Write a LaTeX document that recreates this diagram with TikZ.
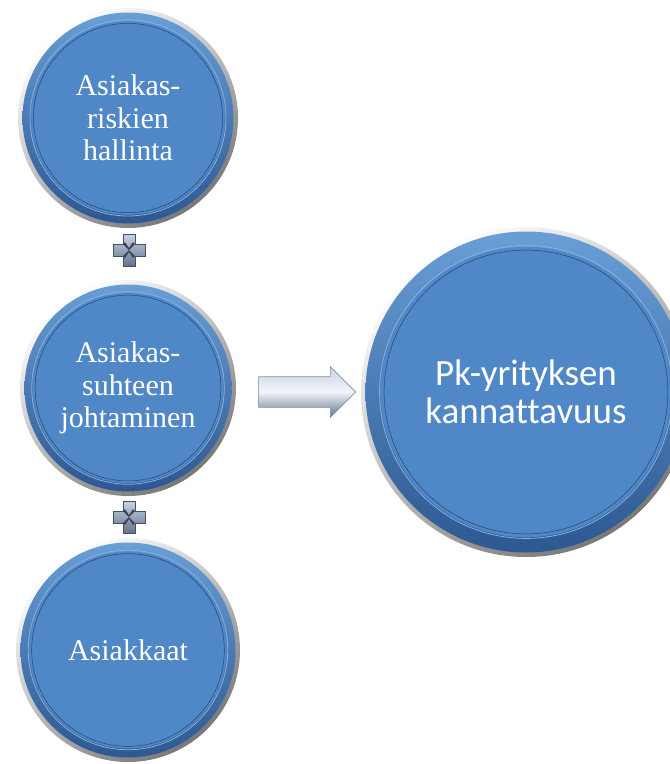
\documentclass[tikz,border=0pt]{standalone}
\usepackage{fontspec}
\setmainfont{Liberation Serif}
\newfontfamily\calib[Ligatures=NoCommon]{Carlito}
\usetikzlibrary{backgrounds,calc,shapes.arrows}
\definecolor{bblue}{RGB}{80,135,198}
\definecolor{bdark}{RGB}{45,88,145}
\definecolor{blight}{RGB}{105,158,215}
\definecolor{rimgray}{RGB}{120,120,120}
\definecolor{silverA}{RGB}{200,212,230}
\definecolor{silverB}{RGB}{100,115,140}
\tikzset{
  x=1pt,y=1pt,
  bubble/.style={circle, inner sep=0pt, text=white, align=center,
    font=\fontsize{30}{32.5}\selectfont},
  bigbubble/.style={bubble, font=\calib\fontsize{37}{38}\selectfont},
  blockarrow/.style={single arrow, draw=silverB!80, line width=0.6pt,
    top color=silverA, bottom color=silverB, middle color=white!75!silverA,
    minimum height=97pt, inner xsep=0pt, inner ysep=15pt,
    single arrow head extend=10pt, single arrow tip angle=90},
  plussign/.style={top color=silverA, bottom color=silverB, draw=silverB!70!black, line width=0.4pt},
}
\newcommand\bubbledeco[2]{%
  \shade[top color=white, bottom color=rimgray, shading angle=35] (#1.center) circle[radius=#2pt];
  \shade[top color=blight, bottom color=bdark] (#1.center) circle[radius=#2pt-4.5pt];
  \fill[bblue] (#1.center) circle[radius=0.88*#2pt];
  \draw[blight!80!white, line width=0.8pt] (#1.center) circle[radius=0.88*#2pt+1.2pt];
  \draw[bdark!80!black, line width=0.5pt] (#1.center) circle[radius=0.86*#2pt];
}
\newcommand\plusdeco[1]{%
  \shade[plussign] ($(#1)+(-6,16)$) -- ($(#1)+(6,16)$) -- ($(#1)+(6,6)$) -- ($(#1)+(16,6)$)
    -- ($(#1)+(16,-6)$) -- ($(#1)+(6,-6)$) -- ($(#1)+(6,-16)$) -- ($(#1)+(-6,-16)$)
    -- ($(#1)+(-6,-6)$) -- ($(#1)+(-16,-6)$) -- ($(#1)+(-16,6)$) -- ($(#1)+(-6,6)$) -- cycle;
  \fill[silverB!60!black] ($(#1)+(-6,6)$) -- ($(#1)+(0,0)$) -- ($(#1)+(6,6)$) -- ($(#1)+(4,8)$) -- ($(#1)+(0,2)$) -- ($(#1)+(-4,8)$) -- cycle;
  \fill[silverB!60!black] ($(#1)+(6,-6)$) -- ($(#1)+(0,0)$) -- ($(#1)+(-6,-6)$) -- ($(#1)+(-4,-8)$) -- ($(#1)+(0,-2)$) -- ($(#1)+(4,-8)$) -- cycle;
}
\begin{document}
\begin{tikzpicture}
\useasboundingbox (0,0) rectangle (670,-764);
\node[bubble, minimum size=220pt] (c1) at (128,-118) {Asiakas-\\riskien\\hallinta};
\node[bubble, minimum size=216pt] (c2) at (128,-388) {Asiakas-\\suhteen\\johtaminen};
\node[bubble, minimum size=224pt] (c3) at (128,-650) {Asiakkaat};
\node[bigbubble, minimum size=330pt] (big) at (526,-392) {Pk-yrityksen\\kannattavuus};
\coordinate (p1) at (129,-250);
\coordinate (p2) at (129,-517);
\node[blockarrow] (arr) at (299.5,-392) {};
\begin{scope}[on background layer]
  \bubbledeco{c1}{110}
  \bubbledeco{c2}{108}
  \bubbledeco{c3}{112}
  \bubbledeco{big}{165}
  \plusdeco{p1}
  \plusdeco{p2}
\end{scope}
\end{tikzpicture}
\end{document}
